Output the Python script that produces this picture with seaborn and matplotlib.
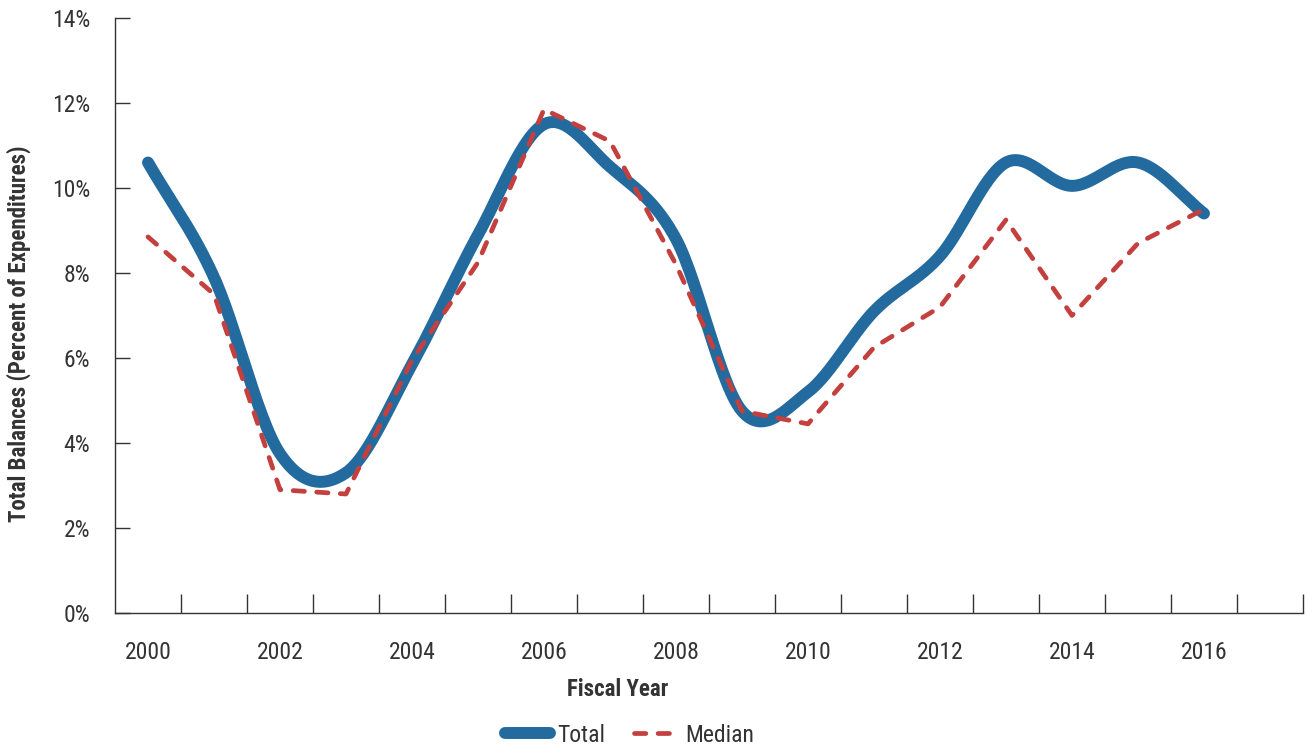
import numpy as np
import pandas as pd
import matplotlib
matplotlib.use("Agg")
import matplotlib.pyplot as plt
import seaborn as sns
from matplotlib.ticker import FixedLocator, FuncFormatter

# Values (percent of expenditures)
years = list(range(2000, 2017))
total = [10.6, 7.9, 3.75, 3.3, 5.85, 8.9, 11.5, 10.5, 8.8, 4.75, 5.2, 7.1, 8.4, 10.6, 10.05, 10.6, 9.4]
median = [8.85, 7.5, 2.9, 2.8, 5.95, 8.25, 11.85, 11.1, 8.2, 4.75, 4.45, 6.25, 7.2, 9.25, 7.0, 8.7, 9.5]
year_labels = [str(y) for y in years[::2]]

BLUE = "#236a9e"
RED = "#c3403e"
TEXT = "#333333"
FS = 17
FS_BOLD = 16.5


# smooth the Total series for drawing (Catmull-Rom through the data points)
def catmull_rom(xs, ys, steps=30):
    xs = np.asarray(xs, float)
    ys = np.asarray(ys, float)
    n = len(ys)
    m = np.zeros(n)
    m[1:-1] = (ys[2:] - ys[:-2]) / 2
    m[0] = ys[1] - ys[0]
    m[-1] = ys[-1] - ys[-2]
    out_x, out_y = [], []
    for i in range(n - 1):
        t = np.linspace(0, 1, steps, endpoint=(i == n - 2))
        h00 = 2 * t**3 - 3 * t**2 + 1
        h10 = t**3 - 2 * t**2 + t
        h01 = -2 * t**3 + 3 * t**2
        h11 = t**3 - t**2
        out_x.append(xs[i] + t * (xs[i + 1] - xs[i]))
        out_y.append(h00 * ys[i] + h10 * m[i] + h01 * ys[i + 1] + h11 * m[i + 1])
    return np.concatenate(out_x), np.concatenate(out_y)


idx = np.arange(len(years))
sx, sy = catmull_rom(idx, total)
df_total = pd.DataFrame({"pos": sx, "value": sy})
df_median = pd.DataFrame({"pos": idx, "value": median})

sns.set_theme(style="white")
plt.rcParams["font.family"] = ["Roboto Condensed", "Liberation Sans Narrow", "Roboto", "DejaVu Sans"]
plt.rcParams["text.color"] = TEXT

fig = plt.figure(figsize=(13.07, 7.51), dpi=100)
ax = fig.add_axes([115 / 1307, 1 - 613 / 751, 1188 / 1307, 595 / 751])

sns.lineplot(data=df_total, x="pos", y="value", color=BLUE, linewidth=8.6,
             label="Total", ax=ax, sort=False)
sns.lineplot(data=df_median, x="pos", y="value", color=RED, linewidth=3.4,
             label="Median", ax=ax)

total_line, median_line = ax.lines[0], ax.lines[1]
total_line.set_solid_capstyle("round")
median_line.set_linestyle((0, (2.4, 2.6)))
median_line.set_dash_capstyle("round")

ax.set_xlim(-0.5, 17.5)
ax.set_ylim(0, 14)

for side in ["top", "right"]:
    ax.spines[side].set_visible(False)
for side in ["left", "bottom"]:
    ax.spines[side].set_color(TEXT)
    ax.spines[side].set_linewidth(1.0)

# y axis
ax.set_yticks(np.arange(0, 15, 2))
ax.yaxis.set_major_formatter(FuncFormatter(lambda v, p: f"{v:.0f}%"))
ax.tick_params(axis="y", direction="in", length=11, width=1.0, color=TEXT,
               pad=18, labelsize=FS, labelcolor=TEXT, left=True)

# x axis: labels at every other year, tick marks at category boundaries
ax.xaxis.set_major_locator(FixedLocator(idx[::2]))
ax.set_xticklabels(year_labels)
ax.xaxis.set_minor_locator(FixedLocator(np.arange(0.5, 18, 1)))
ax.tick_params(axis="x", which="major", length=0, pad=20, labelsize=FS, labelcolor=TEXT, bottom=True)
ax.tick_params(axis="x", which="minor", direction="in", length=14, width=1.0, color=TEXT, bottom=True)

ax.set_xlabel("Fiscal Year", fontsize=FS_BOLD, fontweight="bold", color=TEXT, va="top")
ax.xaxis.set_label_coords((618 - 115) / 1188, (613 - 678) / 595)
ax.set_ylabel("Total Balances (Percent of Expenditures)", fontsize=FS_BOLD, fontweight="bold", color=TEXT)
ax.yaxis.set_label_coords((31 - 115) / 1188, (613 - 334) / 595)

handles, labels = ax.get_legend_handles_labels()
ax.get_legend().remove()
leg = fig.legend(handles, labels, loc="center", bbox_to_anchor=(630 / 1307, 1 - 735 / 751),
                 ncol=2, frameon=False, fontsize=FS, handlelength=1.9, handletextpad=0.3,
                 columnspacing=1.2, borderaxespad=0, labelcolor=TEXT)
for h in leg.get_lines():
    h.set_solid_capstyle("round")
    h.set_dash_capstyle("round")

fig.savefig("out.png", dpi=100)
